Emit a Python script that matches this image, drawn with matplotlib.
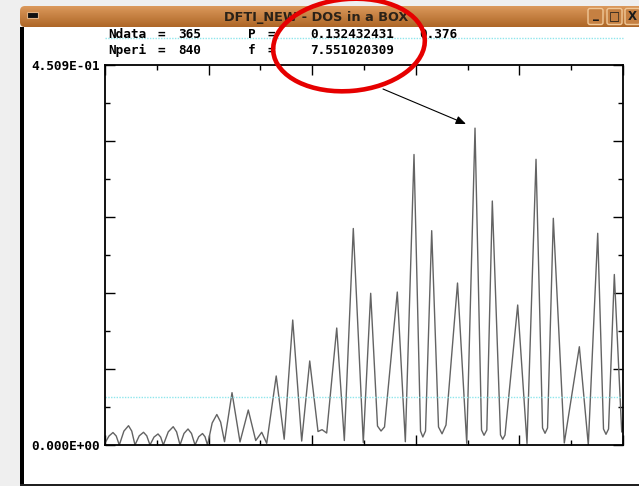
import numpy as np
import matplotlib
matplotlib.use("Agg")
import matplotlib.pyplot as plt
from matplotlib.patches import Rectangle, FancyBboxPatch, Ellipse
from matplotlib.ticker import FixedLocator, FuncFormatter

# ---- periodogram samples (frequency, power) ----
freq = [0.000, 0.082, 0.163, 0.229, 0.292, 0.386, 0.480, 0.546, 0.612, 0.699,
        0.786, 0.852, 0.918, 1.000, 1.082, 1.136, 1.190, 1.291, 1.392, 1.461,
        1.531, 1.612, 1.694, 1.765, 1.837, 1.913, 1.990, 2.041, 2.092, 2.187,
        2.282, 2.360, 2.439, 2.592, 2.755, 2.924, 3.076, 3.198, 3.300, 3.494,
        3.657, 3.831, 4.014, 4.178, 4.347, 4.429, 4.524, 4.729, 4.884, 5.067,
        5.271, 5.422, 5.561, 5.633, 5.704, 5.965, 6.129, 6.306, 6.439, 6.486,
        6.541, 6.667, 6.806, 6.878, 6.959, 7.194, 7.382, 7.551, 7.684, 7.735,
        7.792, 7.904, 8.071, 8.116, 8.163, 8.422, 8.612, 8.796, 8.929, 8.980,
        9.031, 9.149, 9.373, 9.680, 9.863, 10.055, 10.173, 10.224, 10.276, 10.394,
        10.545, 10.571]
power = [0.0024, 0.0107, 0.0148, 0.0107, 0.0000, 0.0165, 0.0229, 0.0165, 0.0000, 0.0109,
         0.0151, 0.0109, 0.0000, 0.0094, 0.0131, 0.0094, 0.0000, 0.0156, 0.0217, 0.0156,
         0.0000, 0.0137, 0.0190, 0.0137, 0.0000, 0.0098, 0.0136, 0.0098, 0.0000, 0.0261,
         0.0362, 0.0272, 0.0039, 0.0621, 0.0036, 0.0415, 0.0053, 0.0151, 0.0020, 0.0819,
         0.0068, 0.1483, 0.0047, 0.0997, 0.0160, 0.0182, 0.0142, 0.1388, 0.0053, 0.2569,
         0.0030, 0.1800, 0.0225, 0.0166, 0.0214, 0.1815, 0.0039, 0.3447, 0.0166, 0.0095,
         0.0166, 0.2543, 0.0214, 0.0133, 0.0237, 0.1922, 0.0020, 0.3760, 0.0178, 0.0115,
         0.0178, 0.2895, 0.0119, 0.0068, 0.0119, 0.1661, 0.0018, 0.3390, 0.0202, 0.0139,
         0.0202, 0.2690, 0.0024, 0.1166, 0.0000, 0.2512, 0.0190, 0.0127, 0.0190, 0.2023,
         0.0154, 0.0285]

F_MIN, F_MAX = 0.0, 10.571
P_MIN, P_MAX = 0.0, 0.4509
LEVEL = 0.0573          # significance level line

N_DATA = 365
N_PERI = 840
F_BEST = 7.551020309
P_BEST = 0.132432431
POW_BEST = 0.376

W, H = 639, 486
fig = plt.figure(figsize=(W / 100, H / 100), dpi=100)
fig.patch.set_facecolor("#efefef")

# ---- window chrome (pixel coordinates) ----
bg = fig.add_axes([0, 0, 1, 1])
bg.set_xlim(0, W)
bg.set_ylim(H, 0)
bg.axis("off")

bg.add_patch(Rectangle((20, 27), 640, 460, facecolor="white", edgecolor="none", zorder=1))
bg.add_patch(Rectangle((20, 27), 4, 460, facecolor="black", edgecolor="none", zorder=1))
bg.add_patch(Rectangle((20, 483.5), 640, 3, facecolor="#202020", edgecolor="none", zorder=1))

grad = np.linspace(0, 1, 64).reshape(-1, 1)
top_c = np.array([0.86, 0.60, 0.36])
bot_c = np.array([0.68, 0.40, 0.15])
img = (top_c + (bot_c - top_c) * grad[..., None]).reshape(64, 1, 3)
bar_shape = FancyBboxPatch((20, 6), 660, 21, boxstyle="round,pad=0,rounding_size=5",
                           facecolor="none", edgecolor="none")
bg.add_patch(bar_shape)
im = bg.imshow(img, extent=[20, 680, 27, 6], aspect="auto",
               interpolation="bilinear", zorder=2)
im.set_clip_path(bar_shape)
bg.set_xlim(0, W)
bg.set_ylim(H, 0)

bg.add_patch(Rectangle((27, 12.5), 11, 6, facecolor="#111111", edgecolor="#e0b080",
                       lw=0.8, zorder=3))
bg.text(316, 17, "DFTI_NEW - DOS in a BOX", ha="center", va="center", zorder=3,
        fontsize=9.3, fontweight="bold", color="#2a2218", family="DejaVu Sans")

for x0, sym in [(588, "_"), (607, "\u25a1"), (625, "X")]:
    bg.add_patch(FancyBboxPatch((x0, 8.5), 15, 16, boxstyle="round,pad=0,rounding_size=2",
                                facecolor="#c58042", edgecolor="#f0c898", lw=1.0, zorder=3))
    bg.text(x0 + 7.5, 16.5 if sym != "_" else 14.5, sym, ha="center", va="center",
            fontsize=8.5, fontweight="bold", color="#1a1a1a", family="DejaVu Sans",
            zorder=4)

mono = dict(family="DejaVu Sans Mono", fontweight="bold", fontsize=9.2,
            color="black", va="center", ha="left", zorder=3)
bg.plot([105, 623], [37.7, 37.7], color="#8fe6ec", lw=1.0, ls=(0, (1, 1)), zorder=2)
y1, y2 = 34.5, 50.0
bg.text(108, y1, "Ndata", **mono)
bg.text(157, y1, "=", **mono)
bg.text(178, y1, f"{N_DATA}", **mono)
bg.text(248, y1, "P", **mono)
bg.text(267, y1, "=", **mono)
bg.text(310, y1, f"{P_BEST:.9f}", **mono)
bg.text(419, y1, f"{POW_BEST:.3f}", **mono)
bg.text(108, y2, "Nperi", **mono)
bg.text(157, y2, "=", **mono)
bg.text(178, y2, f"{N_PERI}", **mono)
bg.text(248, y2, "f", **mono)
bg.text(267, y2, "=", **mono)
bg.text(310, y2, f"{F_BEST:.9f}", **mono)

# ---- plot area ----
L, R, T, B = 105, 623, 65, 445
ax = fig.add_axes([L / W, 1 - B / H, (R - L) / W, (B - T) / H])
ax.set_facecolor("none")
ax.set_xlim(F_MIN, F_MAX)
ax.set_ylim(P_MIN, P_MAX)

ax.plot(freq, power, color="#636363", lw=1.0, solid_joinstyle="round")
ax.axhline(LEVEL, color="#8fe6ec", lw=1.0, ls=(0, (1, 1)))

xt = np.linspace(F_MIN, F_MAX, 11)
yt = np.linspace(P_MIN, P_MAX, 11)
ax.xaxis.set_major_locator(FixedLocator(xt[::2]))
ax.xaxis.set_minor_locator(FixedLocator(xt[1::2]))
ax.yaxis.set_major_locator(FixedLocator(yt[::2]))
ax.yaxis.set_minor_locator(FixedLocator(yt[1::2]))
ax.tick_params(which="both", direction="in", top=True, right=True,
               bottom=True, left=True, labelbottom=False, color="black", width=1.0)
ax.tick_params(which="major", length=7.2)
ax.tick_params(which="minor", length=3.8)


def ylab(v, pos):
    if np.isclose(v, P_MIN) or np.isclose(v, P_MAX):
        m, e = f"{v:.3E}".split("E")
        return f"{m}E{int(e):+03d}"
    return ""


ax.yaxis.set_major_formatter(FuncFormatter(ylab))
ax.tick_params(axis="y", pad=4)
for lab in ax.get_yticklabels():
    lab.set_fontfamily("DejaVu Sans Mono")
    lab.set_fontweight("bold")
    lab.set_fontsize(9.2)
for s in ax.spines.values():
    s.set_color("black")
    s.set_linewidth(1.3)

# ---- annotation overlay ----
ov = fig.add_axes([0, 0, 1, 1])
ov.set_xlim(0, W)
ov.set_ylim(H, 0)
ov.axis("off")
ov.set_facecolor("none")
ov.add_patch(Ellipse((349, 45), 152, 92, angle=-5, facecolor="none",
                     edgecolor="#e60000", lw=3.3))
ov.annotate("", xy=(466, 124), xytext=(383, 89),
            arrowprops=dict(arrowstyle="-|>,head_length=0.6,head_width=0.25",
                            color="black", lw=0.8, shrinkA=0, shrinkB=0))

fig.savefig("out.png", dpi=100)
